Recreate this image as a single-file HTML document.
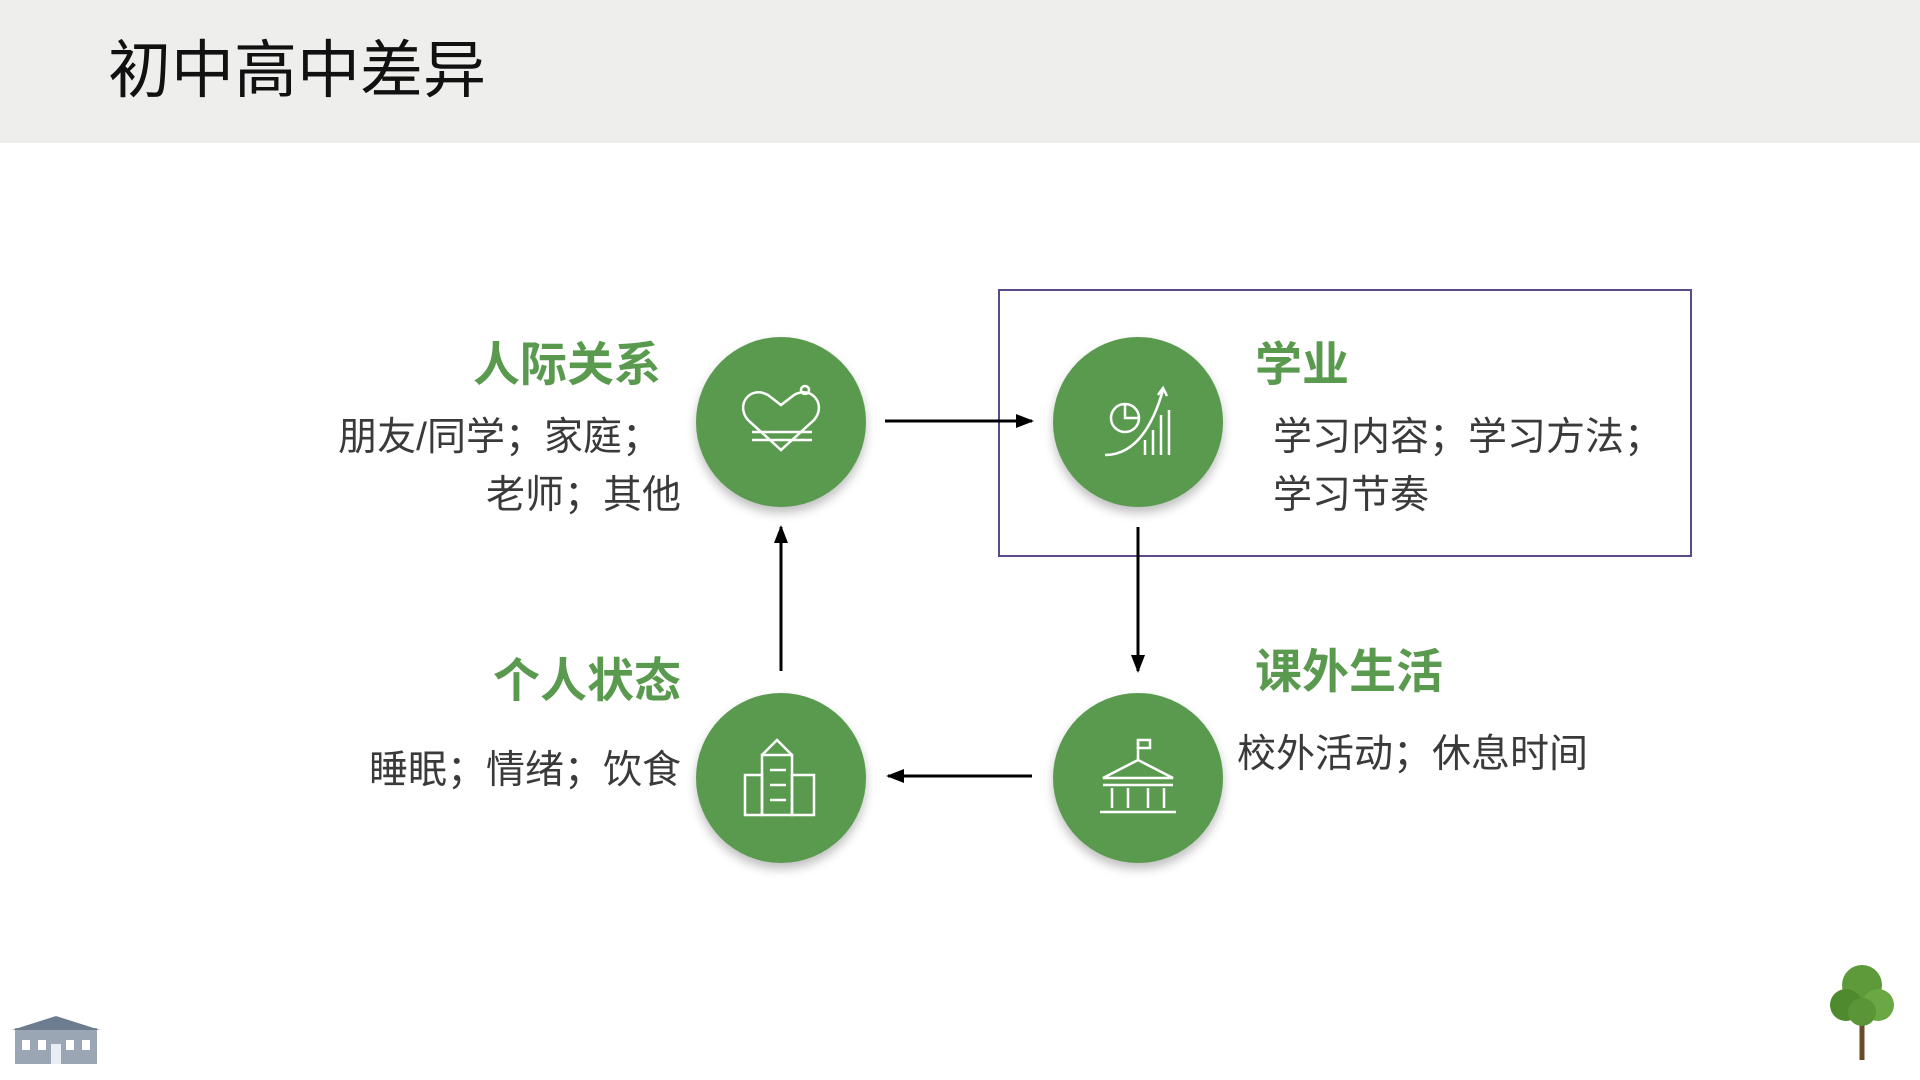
<!DOCTYPE html>
<html><head><meta charset="utf-8"><style>
body{margin:0;width:1920px;height:1080px;background:#fff;position:relative;overflow:hidden;font-family:"Liberation Sans","Noto Sans CJK SC",sans-serif;}
.hdr{position:absolute;left:0;top:0;width:1920px;height:143px;background:#eeefed;}
.title{position:absolute;left:108px;top:31px;font-size:63px;color:#111;line-height:80px;}
.t{position:absolute;white-space:nowrap;line-height:1;}
.g{color:#5a9a4f;font-weight:bold;font-size:47px;}
.b{color:#3a3a3a;font-size:39px;}
.r{text-align:right;}
.c{position:absolute;width:170px;height:170px;border-radius:50%;background:#5a9a4f;box-shadow:0 6px 10px rgba(0,0,0,0.25);}
</style></head><body>
<div class="hdr"></div>
<div class="title">初中高中差异</div>
<div style="position:absolute;left:998px;top:289px;width:690px;height:264px;border:2px solid #5b4b8a;"></div>
<div class="c" style="left:696px;top:337px"></div>
<div class="c" style="left:1053px;top:337px"></div>
<div class="c" style="left:696px;top:693px"></div>
<div class="c" style="left:1053px;top:693px"></div>
<svg width="1920" height="1080" style="position:absolute;left:0;top:0" fill="none" stroke="#fff" stroke-width="2.5">
<defs><marker id="m" markerWidth="20" markerHeight="14" refX="16" refY="7" orient="auto" markerUnits="userSpaceOnUse"><path d="M0,0 L18,7 L0,14Z" fill="#000" stroke="none"/></marker></defs>
<g stroke="#000" stroke-width="3">
<line x1="885" y1="421" x2="1032" y2="421" marker-end="url(#m)"/>
<line x1="1138" y1="527" x2="1138" y2="671" marker-end="url(#m)"/>
<line x1="1032" y1="776" x2="888" y2="776" marker-end="url(#m)"/>
<line x1="781" y1="671" x2="781" y2="527" marker-end="url(#m)"/>
</g>
<path d="M781,450 L748,420 C735,405 750,385 768,395 L781,405 L794,395 C812,385 827,405 814,420Z"/>
<line x1="752" y1="432" x2="812" y2="432"/><line x1="752" y1="440" x2="812" y2="440"/>
<circle cx="805" cy="390" r="4"/>
<circle cx="1125" cy="418" r="14"/><path d="M1125,404 V418 H1139"/>
<path d="M1105,455 C1130,455 1150,435 1163,390"/><path d="M1158,395 L1163,388 L1167,396"/>
<line x1="1145" y1="455" x2="1145" y2="440"/><line x1="1153" y1="455" x2="1153" y2="430"/><line x1="1161" y1="455" x2="1161" y2="415"/><line x1="1169" y1="455" x2="1169" y2="410"/>
<rect x="762" y="755" width="30" height="60"/><rect x="745" y="775" width="17" height="40"/><rect x="792" y="775" width="22" height="40"/>
<path d="M762,755 L777,740 L792,755"/><line x1="770" y1="770" x2="786" y2="770"/><line x1="770" y1="785" x2="786" y2="785"/><line x1="770" y1="800" x2="786" y2="800"/>
<path d="M1103,778 L1138,760 L1173,778Z"/><line x1="1103" y1="785" x2="1173" y2="785"/>
<line x1="1112" y1="788" x2="1112" y2="808"/><line x1="1128" y1="788" x2="1128" y2="808"/><line x1="1148" y1="788" x2="1148" y2="808"/><line x1="1164" y1="788" x2="1164" y2="808"/>
<line x1="1100" y1="812" x2="1176" y2="812"/><line x1="1138" y1="760" x2="1138" y2="740"/><rect x="1138" y="740" width="12" height="8"/>
<g stroke="none"><rect x="15" y="1028" width="82" height="36" fill="#9aa6b4"/><path d="M12,1030 L56,1016 L100,1030Z" fill="#6d7c8f"/>
<rect x="22" y="1040" width="8" height="10" fill="#fff"/><rect x="38" y="1040" width="8" height="10" fill="#fff"/><rect x="66" y="1040" width="8" height="10" fill="#fff"/><rect x="82" y="1040" width="8" height="10" fill="#fff"/><rect x="51" y="1044" width="10" height="20" fill="#e8eef3"/>
<line x1="1862" y1="1000" x2="1862" y2="1060" stroke="#6b4a2b" stroke-width="5"/>
<circle cx="1862" cy="985" r="20" fill="#5f9a3a"/><circle cx="1846" cy="1005" r="16" fill="#4f8a2e"/><circle cx="1878" cy="1005" r="16" fill="#6aa843"/><circle cx="1862" cy="1012" r="14" fill="#5a9638"/></g>
</svg>
<div class="t g r" style="right:1259px;top:341px">人际关系</div>
<div class="t b r" style="right:1259px;top:418px">朋友/同学；家庭；</div>
<div class="t b r" style="right:1239px;top:476px">老师；其他</div>
<div class="t g" style="left:1255px;top:341px">学业</div>
<div class="t b" style="left:1273px;top:418px">学习内容；学习方法；</div>
<div class="t b" style="left:1273px;top:476px">学习节奏</div>
<div class="t g r" style="right:1239px;top:657px">个人状态</div>
<div class="t b r" style="right:1239px;top:751px">睡眠；情绪；饮食</div>
<div class="t g" style="left:1255px;top:648px">课外生活</div>
<div class="t b" style="left:1237px;top:735px">校外活动；休息时间</div>
</body></html>
